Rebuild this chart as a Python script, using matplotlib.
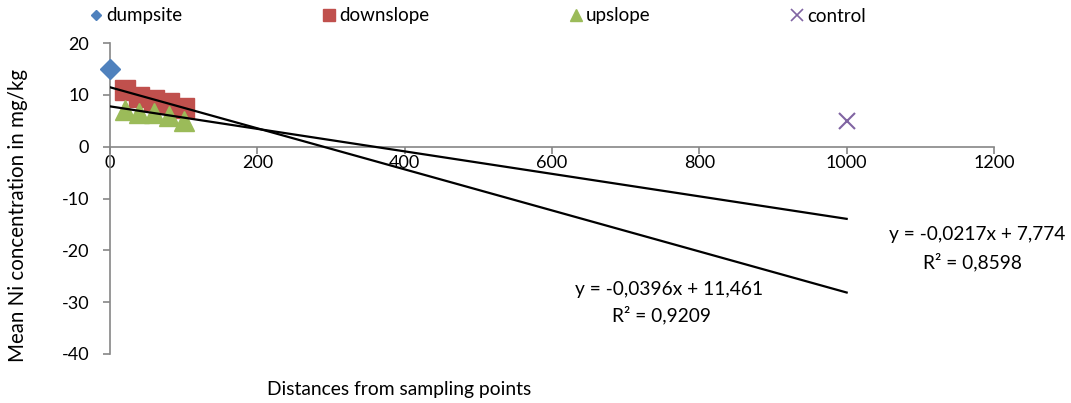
import matplotlib
matplotlib.use("Agg")
import matplotlib.pyplot as plt
import numpy as np

plt.rcParams['font.family'] = ['Lato', 'DejaVu Sans']
plt.rcParams['axes.unicode_minus'] = False

# Data
dump_x = [0]
dump_y = [15]
down_x = [20, 40, 60, 80, 100]
down_y = [11, 9.5, 9, 8.5, 7.5]
up_x = [20, 40, 60, 80, 100]
up_y = [7, 6.5, 6.5, 6, 5]
ctrl_x = [1000]
ctrl_y = [5]

# Trend lines (slope, intercept) as shown in the chart
trend1 = (-0.0396, 11.461)
trend2 = (-0.0217, 7.774)
trend_x = [0, 1000]
eq1 = ["y = -0,0396x + 11,461", "R² = 0,9209"]
eq2 = ["y = -0,0217x + 7,774", "R² = 0,8598"]

xticks = [0, 200, 400, 600, 800, 1000, 1200]
yticks = [-40, -30, -20, -10, 0, 10, 20]
legend_labels = ['dumpsite', 'downslope', 'upslope', 'control']

W, H = 1071, 403
fig = plt.figure(figsize=(W / 100, H / 100), dpi=100)
ax = fig.add_axes([110 / W, 1 - 354 / H, (994 - 110) / W, (354 - 43) / H])

blue, red, green, purple = '#4F81BD', '#C0504D', '#9BBB59', '#8064A2'

ax.plot(dump_x, dump_y, 'D', color=blue, markersize=10.5, clip_on=False, zorder=3)
ax.plot(down_x, down_y, 's', color=red, markersize=14, clip_on=False, zorder=3)
ax.plot(up_x, up_y, '^', color=green, markersize=14, clip_on=False, zorder=3)
ax.plot(ctrl_x, ctrl_y, 'x', color=purple, markersize=12, markeredgewidth=1.5, clip_on=False, zorder=3)

tx = np.array(trend_x, dtype=float)
ax.plot(tx, trend1[0] * tx + trend1[1], color='black', lw=1.6, zorder=4)
ax.plot(tx, trend2[0] * tx + trend2[1], color='black', lw=1.6, zorder=4)

ax.set_xlim(0, 1200)
ax.set_ylim(-40, 20)
ax.set_xticks(xticks)
ax.set_yticks(yticks)
ax.spines['top'].set_visible(False)
ax.spines['right'].set_visible(False)
ax.spines['bottom'].set_position(('data', 0))
for s in ('left', 'bottom'):
    ax.spines[s].set_color('#868686')
    ax.spines[s].set_linewidth(1.2)
ax.tick_params(axis='both', colors='#868686', length=5, width=1.2, labelsize=13, labelcolor='black')
ax.tick_params(axis='x', pad=1)
ax.tick_params(axis='y', pad=10)

def px(x, y):
    return x / W, 1 - y / H

fig.text(*px(977, 235), eq2[0], ha='center', va='center', fontsize=13.8)
fig.text(*px(972, 262), eq2[1], ha='center', va='center', fontsize=13.8)
fig.text(*px(669, 289), eq1[0], ha='center', va='center', fontsize=13.8)
fig.text(*px(662, 315), eq1[1], ha='center', va='center', fontsize=13.8)

fig.text(*px(399, 390), 'Distances from sampling points', ha='center', va='center', fontsize=13.9)
fig.text(*px(18, 216), 'Mean Ni concentration in mg/kg', ha='center', va='center', rotation=90, fontsize=14.8)

handles = [
    plt.Line2D([], [], marker='D', color=blue, ls='', markersize=5.5),
    plt.Line2D([], [], marker='s', color=red, ls='', markersize=9),
    plt.Line2D([], [], marker='^', color=green, ls='', markersize=9),
    plt.Line2D([], [], marker='x', color=purple, ls='', markersize=9, markeredgewidth=1.2),
]
marker_centers = [95, 328, 575, 796]
for h, lab, mx in zip(handles, legend_labels, marker_centers):
    fig.legend([h], [lab], loc='center left', bbox_to_anchor=px(mx - 7, 16), frameon=False,
               fontsize=13.5, handlelength=0.8, handletextpad=0.15,
               borderaxespad=0, borderpad=0)

fig.savefig('out.png', dpi=100)
